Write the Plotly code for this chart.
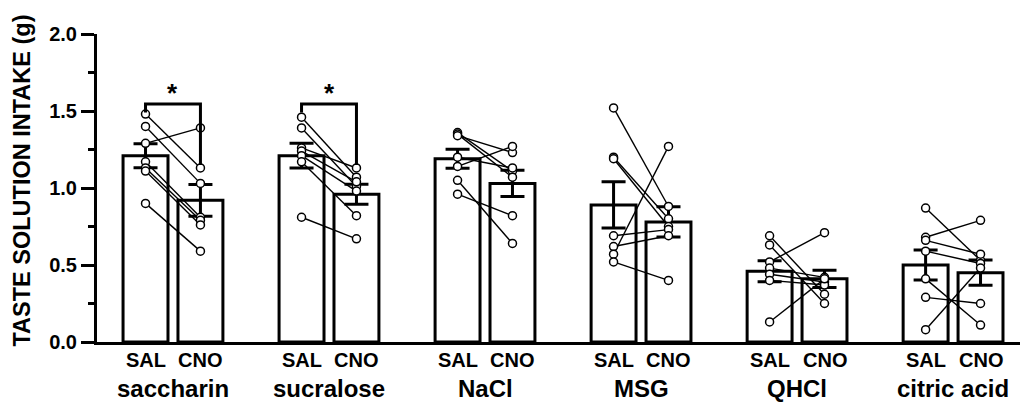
import plotly.graph_objects as go

# Taste solutions and treatments
tastes = ["saccharin", "sucralose", "NaCl", "MSG", "QHCl", "citric acid"]
treatments = ["SAL", "CNO"]

# Per-animal intake (g), paired SAL/CNO by position
saccharin_sal = [1.48, 1.40, 1.29, 1.17, 1.13, 1.11, 0.90]
saccharin_cno = [1.13, 1.03, 1.39, 0.81, 0.79, 0.76, 0.59]
sucralose_sal = [1.46, 1.39, 1.26, 1.24, 1.21, 1.17, 0.81]
sucralose_cno = [1.07, 1.01, 1.13, 1.04, 0.98, 0.82, 0.67]
nacl_sal = [1.36, 1.35, 1.34, 1.20, 1.14, 1.05, 0.96]
nacl_cno = [1.11, 1.07, 1.23, 1.13, 1.27, 0.64, 0.82]
msg_sal = [1.52, 1.20, 1.19, 0.69, 0.62, 0.57, 0.52]
msg_cno = [0.88, 0.80, 0.75, 0.73, 0.69, 1.27, 0.40]
qhcl_sal = [0.69, 0.63, 0.52, 0.48, 0.44, 0.40, 0.13]
qhcl_cno = [0.31, 0.25, 0.71, 0.42, 0.39, 0.37, 0.41]
citric_sal = [0.87, 0.68, 0.66, 0.59, 0.41, 0.29, 0.08]
citric_cno = [0.53, 0.79, 0.57, 0.51, 0.11, 0.25, 0.48]

# Group means and SEM
sal_mean = [1.21, 1.21, 1.19, 0.89, 0.46, 0.50]
cno_mean = [0.92, 0.96, 1.03, 0.78, 0.41, 0.45]
sal_sem = [0.078, 0.080, 0.062, 0.150, 0.068, 0.097]
cno_sem = [0.103, 0.065, 0.085, 0.098, 0.056, 0.082]

# Significant comparisons: group index, bracket top, left/right leg ends
sig_groups = [0, 1]
sig_top = [1.545, 1.545]
sig_left_end = [1.49, 1.49]
sig_right_end = [1.15, 1.15]

paired = [
    (saccharin_sal, saccharin_cno),
    (sucralose_sal, sucralose_cno),
    (nacl_sal, nacl_cno),
    (msg_sal, msg_cno),
    (qhcl_sal, qhcl_cno),
    (citric_sal, citric_cno),
]

OFF = 0.176
BAR_W = 0.288
FONT = "Liberation Sans, Arial, sans-serif"

sal_x = [g - OFF for g in range(len(tastes))]
cno_x = [g + OFF for g in range(len(tastes))]

fig = go.Figure()

for xs, means, sems in [(sal_x, sal_mean, sal_sem), (cno_x, cno_mean, cno_sem)]:
    fig.add_trace(go.Bar(
        x=xs, y=means, width=BAR_W,
        marker=dict(color="white", line=dict(color="black", width=3)),
        error_y=dict(type="data", array=sems, visible=True,
                     color="black", thickness=3, width=12),
        showlegend=False, hoverinfo="skip",
    ))

# Paired lines
lx, ly = [], []
for g, (s, c) in enumerate(paired):
    for a, b in zip(s, c):
        lx += [sal_x[g], cno_x[g], None]
        ly += [a, b, None]
fig.add_trace(go.Scatter(x=lx, y=ly, mode="lines",
                         line=dict(color="black", width=1.4),
                         showlegend=False, hoverinfo="skip"))

# Individual points
px, py = [], []
for g, (s, c) in enumerate(paired):
    px += [sal_x[g]] * len(s) + [cno_x[g]] * len(c)
    py += list(s) + list(c)
fig.add_trace(go.Scatter(x=px, y=py, mode="markers",
                         marker=dict(symbol="circle", size=8, color="white",
                                     line=dict(color="black", width=1.5)),
                         showlegend=False, hoverinfo="skip"))

# Significance brackets
for g, top, le, re in zip(sig_groups, sig_top, sig_left_end, sig_right_end):
    fig.add_shape(type="path",
                  path=f"M {sal_x[g]} {le} L {sal_x[g]} {top} L {cno_x[g]} {top} L {cno_x[g]} {re}",
                  line=dict(color="black", width=3))
    fig.add_annotation(x=g, y=top + 0.07, text="<b>*</b>", showarrow=False,
                       yanchor="middle", font=dict(family=FONT, size=26, color="black"))

# Category labels under the axis
for g, name in enumerate(tastes):
    for xv, t in zip([sal_x[g], cno_x[g]], treatments):
        fig.add_annotation(x=xv, y=-0.058, xref="x", yref="paper", text=f"<b>{t}</b>",
                           showarrow=False, xanchor="center", yanchor="middle",
                           font=dict(family=FONT, size=20, color="black"))
    fig.add_annotation(x=g, y=-0.152, xref="x", yref="paper", text=f"<b>{name}</b>",
                       showarrow=False, xanchor="center", yanchor="middle",
                       font=dict(family=FONT, size=24, color="black"))

fig.add_annotation(x=-0.081, y=0.525, xref="paper", yref="paper",
                   text="<b>TASTE SOLUTION INTAKE (g)</b>", textangle=-90,
                   showarrow=False, xanchor="center", yanchor="middle",
                   font=dict(family=FONT, size=23.5, color="black"))

fig.update_layout(
    width=1020, height=403,
    margin=dict(l=97, r=0, t=34, b=61),
    paper_bgcolor="white", plot_bgcolor="white",
    barmode="overlay",
    xaxis=dict(range=[-0.487, 5.429], showline=True, linecolor="black", linewidth=3,
               showticklabels=False, ticks="", showgrid=False, zeroline=False),
    yaxis=dict(range=[0, 2], tickvals=[0, 0.5, 1.0, 1.5, 2.0],
               ticktext=["<b>0.0</b>", "<b>0.5</b>", "<b>1.0</b>", "<b>1.5</b>", "<b>2.0</b>"],
               showline=True, linecolor="black", linewidth=3,
               ticks="outside", ticklen=13, tickwidth=3, tickcolor="black",
               minor=dict(tickvals=[0.25, 0.75, 1.25, 1.75], ticks="outside",
                          ticklen=6, tickwidth=3, tickcolor="black", showgrid=False),
               showgrid=False, zeroline=False,
               tickfont=dict(family=FONT, size=20, color="black")),
)

fig.write_html("out.html")
